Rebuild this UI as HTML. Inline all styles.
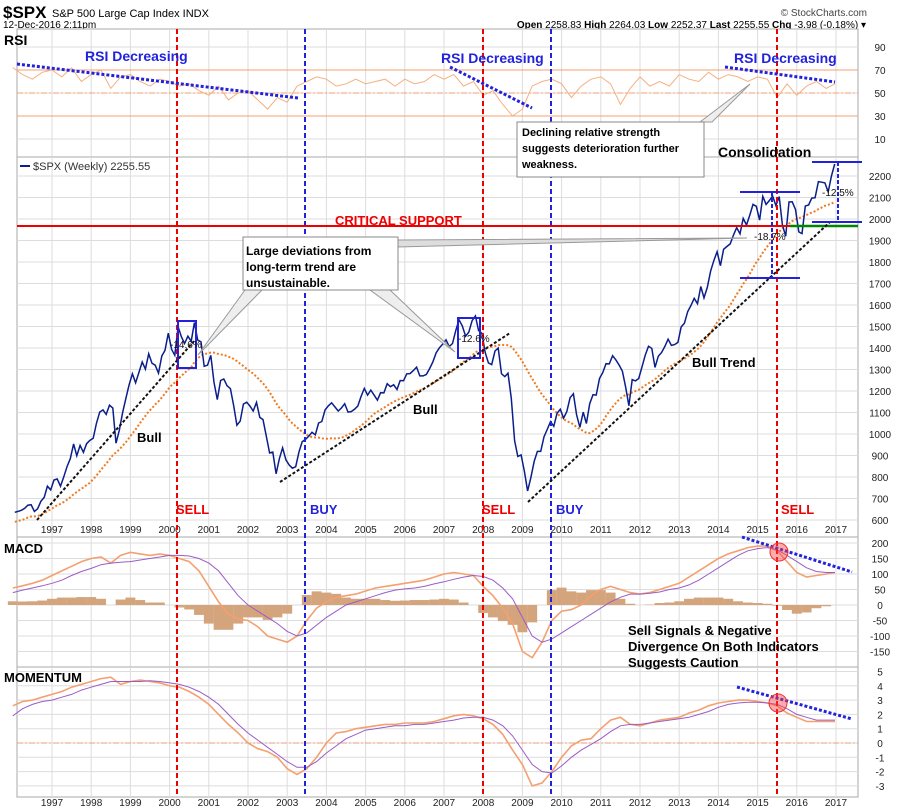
<!DOCTYPE html>
<html><head><meta charset="utf-8"><style>
body{margin:0;background:#fff;}
svg{display:block;font-family:"Liberation Sans",Arial,sans-serif;}
</style></head><body>
<svg id="chart" width="900" height="811" viewBox="0 0 900 811" xmlns="http://www.w3.org/2000/svg">
<g id="hdr">
<text x="3" y="18" font-size="17" font-weight="bold">$SPX</text>
<text x="52" y="17" font-size="11">S&amp;P 500 Large Cap Index  INDX</text>
<text x="3" y="28" font-size="10">12-Dec-2016 2:11pm</text>
<text x="867" y="16" font-size="10" text-anchor="end" fill="#444">© StockCharts.com</text>
<text x="866" y="28" font-size="10" text-anchor="end"><tspan font-weight="bold">Open</tspan> 2258.83 <tspan font-weight="bold">High</tspan> 2264.03 <tspan font-weight="bold">Low</tspan> 2252.37 <tspan font-weight="bold">Last</tspan> 2255.55 <tspan font-weight="bold">Chg</tspan> -3.98 (-0.18%) ▾</text>
</g>
<g id="grid"></g>
<g id="marks"></g>
<g id="annot"></g>
</svg>
<script>
const NS='http://www.w3.org/2000/svg';
const startYear=1996, stepQ=0.25;
const yearLabels=['1997','1998','1999','2000','2001','2002','2003','2004','2005','2006','2007','2008','2009','2010','2011','2012','2013','2014','2015','2016','2017'];
const rsiTicks=[90,70,50,30,10];
const priceTicks=[600,700,800,900,1000,1100,1200,1300,1400,1500,1600,1700,1800,1900,2000,2100,2200];
const macdTicks=[200,150,100,50,0,-50,-100,-150];
const momTicks=[5,4,3,2,1,0,-1,-2,-3];
const spxMonthly=[636,640,645,654,669,671,640,652,687,705,757,740,
786,791,757,801,848,885,954,899,947,915,955,970,
980,1049,1102,1112,1091,1134,1121,957,1017,1099,1164,1229,
1280,1238,1286,1335,1302,1373,1329,1320,1283,1363,1389,1469,
1394,1366,1499,1452,1421,1455,1431,1518,1437,1429,1315,1320,
1366,1240,1160,1249,1256,1224,1211,1134,1041,1060,1139,1148,
1130,1107,1147,1077,1067,990,912,916,815,886,936,880,
856,841,848,917,964,975,990,1008,996,1051,1058,1112,
1131,1145,1126,1107,1121,1141,1102,1104,1115,1130,1174,1212,
1181,1204,1181,1157,1192,1191,1234,1220,1229,1207,1249,1248,
1280,1281,1295,1311,1270,1270,1277,1304,1336,1378,1401,1418,
1438,1407,1421,1482,1531,1503,1455,1474,1527,1549,1481,1468,
1379,1331,1323,1386,1400,1280,1267,1283,1166,969,896,903,
826,735,798,873,919,919,987,1021,1057,1036,1096,1115,
1074,1104,1169,1187,1089,1031,1102,1049,1141,1183,1181,1258,
1286,1327,1326,1364,1345,1321,1292,1219,1131,1253,1247,1258,
1312,1366,1408,1398,1310,1362,1379,1407,1441,1412,1416,1426,
1498,1515,1569,1598,1631,1606,1686,1633,1682,1757,1806,1848,
1783,1859,1872,1884,1924,1960,1931,2003,1972,2018,2068,2059,
1995,2105,2068,2086,2107,2063,2104,1972,1920,2079,2080,2044,
1940,1932,2060,2065,2097,2099,2174,2171,2168,2126,2199,2256];
const rsiQ=[72,66,62,68,70,64,72,60,66,70,54,64,66,60,56,62,60,56,58,52,48,56,44,50,52,44,36,46,42,56,60,64,62,56,58,62,58,60,62,56,62,58,60,66,62,66,56,60,48,52,40,30,36,56,60,62,58,46,56,62,64,58,40,54,64,56,60,56,66,62,60,68,62,66,64,60,64,62,46,58,48,56,60,54,58];
const macdQ=[55,62,70,80,95,110,125,140,150,155,135,160,170,165,160,165,160,150,140,110,60,10,-30,-45,-50,-70,-100,-110,-120,-100,-50,-10,10,25,30,35,45,55,60,65,70,75,80,90,100,105,100,95,60,30,-10,-60,-150,-170,-120,-50,-20,-15,0,30,50,60,50,40,35,40,50,60,70,90,110,130,150,165,175,185,190,190,175,140,105,90,95,100,105];
const signalQ=[40,48,55,62,70,80,95,108,118,130,135,138,140,145,150,155,160,160,158,150,135,110,70,30,0,-20,-40,-60,-85,-100,-90,-65,-40,-20,0,10,20,30,40,48,52,55,60,68,75,83,90,95,92,80,55,20,-40,-100,-120,-110,-90,-70,-50,-30,-10,10,25,35,35,38,42,50,55,65,80,100,120,140,160,175,182,185,178,160,140,120,108,105,105];
const momQ=[2.6,2.9,3.0,3.2,3.4,3.6,3.9,4.1,4.3,4.5,4.6,4.1,4.3,4.4,4.3,4.2,4.0,3.9,3.6,3.2,2.7,2.0,1.3,0.7,0,-0.4,-0.6,-1.0,-1.8,-2.2,-1.8,-1.0,0,0.7,0.8,1.0,1.1,1.2,1.3,1.3,1.4,1.4,1.4,1.5,1.7,1.9,2.0,1.9,1.7,1.3,0.6,-0.5,-1.5,-3.0,-2.8,-2.0,-1.0,-0.2,0.2,0.3,1.0,1.6,1.8,1.3,1.2,1.4,1.6,1.7,1.8,2.1,2.3,2.6,2.8,2.9,3.0,3.0,2.9,2.8,2.6,2.1,1.8,1.5,1.5,1.5,1.5];
const momSigQ=[1.9,2.4,2.7,2.9,3.0,3.2,3.4,3.7,3.9,4.1,4.3,4.3,4.3,4.3,4.35,4.3,4.2,4.1,3.9,3.6,3.2,2.7,2.0,1.3,0.7,0.2,-0.3,-0.8,-1.3,-1.7,-1.7,-1.3,-0.7,-0.2,0.3,0.6,0.9,1.0,1.1,1.2,1.2,1.3,1.3,1.4,1.5,1.6,1.75,1.8,1.8,1.6,1.2,0.5,-0.5,-1.5,-2.0,-2.1,-1.6,-1.0,-0.5,-0.1,0.3,0.8,1.2,1.3,1.3,1.4,1.5,1.6,1.7,1.8,2.0,2.2,2.5,2.7,2.8,2.85,2.85,2.8,2.7,2.4,2.0,1.8,1.6,1.6,1.6];

const L=17,R=858;
const xT=t=>52+(t-1997)*39.2;
const yRsi=v=>93-(v-50)*1.15;
const yPx=p=>520-(p-600)*0.215;
const yMacd=m=>605-m*0.31;
const yMom=v=>743-v*14.3;
const panels=[[29,157],[157,537],[537,667],[667,797]];

function mk(tag,attrs,parent,text){const e=document.createElementNS(NS,tag);for(const k in attrs)e.setAttribute(k,attrs[k]);if(text!=null)e.textContent=text;parent.appendChild(e);return e;}
const grid=document.getElementById('grid'),marks=document.getElementById('marks'),annot=document.getElementById('annot');

panels.forEach((p,i)=>{
  const r=mk('rect',{x:L,y:p[0],width:R-L,height:p[1]-p[0],fill:'#fff',stroke:'#aaa','stroke-width':1},grid);
  
  
  yearLabels.forEach(y=>{
    const x=xT(+y);
    const l=mk('line',{x1:x,x2:x,y1:p[0],y2:p[1],stroke:'#ddd','stroke-width':1},grid);
    
    
  });
});
function hTicks(ticks,fy,top,bot,name){
  ticks.forEach(v=>{
    const y=fy(v);
    const l=mk('line',{x1:L,x2:R,y1:y,y2:y,stroke:'#ddd'},grid);
    
    
    const t=mk('text',{x:880,y:y+4,'font-size':10,'text-anchor':'middle',fill:'#222'},grid,String(v));
    
    
  });
}
hTicks(rsiTicks,yRsi,29,157,'rsi');
hTicks(priceTicks,yPx,157,537,'price');
hTicks(macdTicks,yMacd,537,667,'macd');
hTicks(momTicks,yMom,667,797,'momentum');
[[533],[806]].forEach(a=>{
  yearLabels.forEach(y=>{
    const t=mk('text',{x:xT(+y),y:a[0],'font-size':10,'text-anchor':'middle',fill:'#222'},grid,y);
    
    
  });
});

function path(vals,fx,fy,attrs,name){
  const d=vals.map((v,i)=>(i?'L':'M')+fx(i).toFixed(1)+' '+fy(v).toFixed(1)).join('');
  const p=mk('path',Object.assign({d:d,fill:'none'},attrs),marks);
  
  
  return p;
}
const qx=i=>Math.min(xT(startYear+i*stepQ),835);
const mx=i=>xT(startYear+0.05+i/12);

[[70,'#f4a070'],[30,'#f4a070']].forEach(a=>{const l=mk('line',{x1:L,x2:R,y1:yRsi(a[0]),y2:yRsi(a[0]),stroke:a[1]},marks);});
{const l=mk('line',{x1:L,x2:R,y1:yRsi(50),y2:yRsi(50),stroke:'#f4a070','stroke-dasharray':'6 2 2 2'},marks);}
path(rsiQ,qx,yRsi,{stroke:'#f4b080','stroke-width':1},'rsi-line');

const ma=spxMonthly.map((v,i)=>{const s=spxMonthly.slice(Math.max(0,i-23),i+1);return s.reduce((a,b)=>a+b,0)/s.length*(i<24?0.93+0.07*i/24:1);});
path(ma,mx,yPx,{stroke:'#f07a20','stroke-width':2,'stroke-dasharray':'2 2'},'moving-average-line');
path(spxMonthly,mx,yPx,{stroke:'#0a1e8c','stroke-width':1.5},'spx-price-line');

macdQ.forEach((m,i)=>{
  const h=m-signalQ[i];const y0=yMacd(0),y1=yMacd(h*0.8);
  const r=mk('rect',{x:qx(i)-4.95,y:Math.min(y0,y1),width:9.9,height:Math.abs(y1-y0),fill:'#d4a47c'},marks);
  
  
});
path(macdQ,qx,yMacd,{stroke:'#f4a070','stroke-width':1.6},'macd-line');
path(signalQ,qx,yMacd,{stroke:'#9a5cc8','stroke-width':1},'macd-signal-line');
{const l=mk('line',{x1:L,x2:R,y1:yMom(0),y2:yMom(0),stroke:'#e9a27a','stroke-dasharray':'6 2 2 2'},marks);}
path(momQ,qx,yMom,{stroke:'#f4a070','stroke-width':1.6},'momentum-line');
path(momSigQ,qx,yMom,{stroke:'#9a5cc8','stroke-width':1},'momentum-signal-line');
</script>
<svg style="position:absolute;left:0;top:0" width="900" height="811" font-family="Liberation Sans, Arial, sans-serif">
<g font-weight="bold">
<text x="4" y="45" font-size="14">RSI</text>
<text x="4" y="553" font-size="13">MACD</text>
<text x="4" y="682" font-size="13">MOMENTUM</text>
</g>
<g stroke-width="2" stroke-dasharray="5 3">
<line x1="177" y1="29" x2="177" y2="797" stroke="#e00"/><line x1="483" y1="29" x2="483" y2="797" stroke="#e00"/><line x1="777" y1="29" x2="777" y2="797" stroke="#e00"/>
<line x1="305" y1="29" x2="305" y2="797" stroke="#22d"/><line x1="551" y1="29" x2="551" y2="797" stroke="#22d"/>
</g>
<line x1="17" y1="226" x2="858" y2="226" stroke="#e00" stroke-width="2"/>
<line x1="790" y1="226" x2="858" y2="226" stroke="#080" stroke-width="2.5"/>
<text x="335" y="225" font-size="13" font-weight="bold" fill="#e00">CRITICAL SUPPORT</text>
<g stroke="#111" stroke-width="2" stroke-dasharray="3 2">
<line x1="37" y1="520" x2="195" y2="340"/><line x1="280" y1="482" x2="510" y2="333"/><line x1="528" y1="502" x2="830" y2="222"/>
</g>
<g stroke="#22d" stroke-width="3" stroke-dasharray="3 2" fill="none">
<line x1="17" y1="64" x2="298" y2="98"/><line x1="450" y1="67" x2="532" y2="108"/><line x1="725" y1="67" x2="835" y2="82"/>
<line x1="742" y1="537" x2="852" y2="572"/><line x1="737" y1="687" x2="852" y2="719"/>
</g>
<g font-size="14" font-weight="bold" fill="#22d">
<text x="85" y="61">RSI Decreasing</text>
<text x="441" y="63">RSI Decreasing</text>
<text x="734" y="63">RSI Decreasing</text>
</g>
<g font-size="13" font-weight="bold">
<text x="176" y="514" fill="#e00">SELL</text>
<text x="482" y="514" fill="#e00">SELL</text>
<text x="781" y="514" fill="#e00">SELL</text>
<text x="310" y="514" fill="#22d">BUY</text>
<text x="556" y="514" fill="#22d">BUY</text>
<text x="137" y="442">Bull</text>
<text x="413" y="414">Bull</text>
<text x="692" y="367">Bull Trend</text>
<text x="718" y="157" font-size="14">Consolidation</text>
</g>
<line x1="20" y1="166" x2="30" y2="166" stroke="#0a1e8c" stroke-width="2"/>
<text x="33" y="170" font-size="11" fill="#333">$SPX (Weekly) 2255.55</text>
<g>
<polygon points="245,290 198,355 262,290" fill="#eee" stroke="#999"/>
<polygon points="390,290 455,352 370,290" fill="#eee" stroke="#999"/>
<polygon points="398,240 747,238 398,247" fill="#ddd" stroke="#999"/>
<rect x="243" y="237" width="155" height="53" fill="#fff" stroke="#888"/>
<text font-size="12" font-weight="bold" x="246" y="255">Large deviations from</text>
<text font-size="12" font-weight="bold" x="246" y="271">long-term trend are</text>
<text font-size="12" font-weight="bold" x="246" y="287">unsustainable.</text>
</g>
<g>
<polygon points="700,122 750,84 712,122" fill="#eee" stroke="#999"/>
<rect x="517" y="122" width="187" height="55" fill="#fff" stroke="#888"/>
<text font-size="11" font-weight="bold" x="522" y="136">Declining relative strength</text>
<text font-size="11" font-weight="bold" x="522" y="152">suggests deterioration further</text>
<text font-size="11" font-weight="bold" x="522" y="168">weakness.</text>
</g>
<g stroke="#22d" stroke-width="2" fill="none">
<rect x="178" y="321" width="18" height="47"/><rect x="458" y="318" width="22" height="40"/>
<line x1="740" y1="192" x2="800" y2="192"/><line x1="740" y1="278" x2="800" y2="278"/><line x1="772" y1="192" x2="772" y2="278" stroke-dasharray="4 2"/>
<line x1="812" y1="162" x2="862" y2="162"/><line x1="812" y1="222" x2="862" y2="222"/><line x1="838" y1="162" x2="838" y2="222" stroke-dasharray="4 2"/>
</g>
<g font-size="10" fill="#111">
<text x="170" y="348">-14.6%</text>
<text x="458" y="342">-12.6%</text>
<text x="754" y="240">-18.7%</text>
<text x="822" y="196">-12.5%</text>
</g>
<circle cx="779" cy="552" r="9" fill="#f44" fill-opacity="0.45" stroke="#e33"/>
<circle cx="778" cy="703" r="9" fill="#f44" fill-opacity="0.45" stroke="#e33"/>
<g font-size="13" font-weight="bold">
<text x="628" y="635">Sell Signals &amp; Negative</text>
<text x="628" y="651">Divergence On Both Indicators</text>
<text x="628" y="667">Suggests Caution</text>
</g>
</svg>
</body></html>
